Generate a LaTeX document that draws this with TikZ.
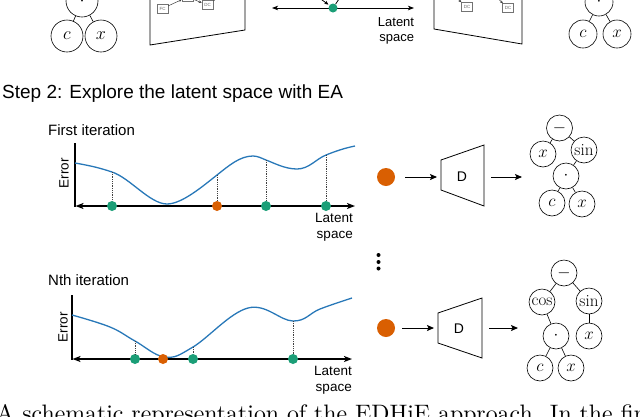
\RequirePackage{fix-cm}
\documentclass[tikz,border=0pt]{standalone}
\usepackage{fontspec}
\setsansfont{Liberation Sans}
\usetikzlibrary{arrows.meta}
\definecolor{dgreen}{HTML}{1B9E77}
\definecolor{dorange}{HTML}{D95F02}
\definecolor{cblue}{HTML}{2878B8}
\begin{document}
\begin{tikzpicture}[x=1pt,y=-1pt,
  tnode/.style={circle,draw,line width=0.6pt,inner sep=0pt,minimum size=26pt,font=\fontsize{17}{17}\selectfont},
  bigt/.style={tnode,minimum size=32pt,font=\fontsize{18}{18}\selectfont},
  midt/.style={tnode,minimum size=28pt,font=\fontsize{17}{17}\selectfont},
  axis/.style={line width=1.6pt,{Stealth[length=8pt,width=6pt,inset=2pt]}-{Stealth[length=8pt,width=6pt,inset=2pt]}},
  smallaxis/.style={line width=0.9pt,{Stealth[length=6pt,width=4.5pt,inset=1.5pt]}-{Stealth[length=6pt,width=4.5pt,inset=1.5pt]}},
  yaxis/.style={line width=1.6pt},
  curve/.style={cblue,line width=1.3pt},
  drop/.style={densely dotted,line width=0.8pt,black!75},
  gdot/.style={circle,fill=dgreen,inner sep=0pt,minimum size=10pt},
  odot/.style={circle,fill=dorange,inner sep=0pt,minimum size=10pt},
  bigodot/.style={circle,fill=dorange,inner sep=0pt,minimum size=18pt},
  flow/.style={line width=0.9pt,-{Stealth[length=7pt,width=6pt,inset=1.5pt]}},
  trap/.style={line width=0.8pt},
  lab/.style={font=\sffamily\fontsize{13.5}{16}\selectfont,align=right},
  errlab/.style={font=\sffamily\fontsize{13.5}{16}\selectfont,rotate=90},
  title/.style={font=\sffamily\fontsize{15}{18}\selectfont,anchor=base west,inner sep=0pt},
  minibox/.style={draw=black!55,line width=0.4pt,minimum width=11pt,minimum height=9pt,inner sep=0pt,font=\sffamily\fontsize{4.5}{5}\selectfont,text=black!60},
  tinyarrow/.style={line width=0.5pt,black!75,-{Stealth[length=3pt,width=2.5pt]}},
  vdot/.style={circle,fill=black,inner sep=0pt,minimum size=4pt}
]
\useasboundingbox (0,0) rectangle (640,416);
\clip (0,0) rectangle (640,416);

% ---------------- top row (partially cut) ----------------
\node[bigt] (tl0) at (82,1) {$\cdot$};
\node[bigt] (tl1) at (67,36) {$c$};
\node[bigt] (tl2) at (101,36) {$x$};
\draw[line width=0.6pt] (tl0) -- (tl1);
\draw[line width=0.6pt] (tl0) -- (tl2);

% encoder
\coordinate (enc1) at (150,-20);
\coordinate (enc2) at (150,45);
\coordinate (enc3) at (245,30);
\coordinate (enc4) at (245,-20);
\draw[trap] (enc1) -- (enc2) -- (enc3) -- (enc4);
\node[minibox] (e1) at (162.5,8.5) {FC};
\node[minibox] (e2) at (187.5,-3) {};
\node[minibox] (e3) at (207.5,5) {DC};
\draw[tinyarrow] (e1) -- (e2);
\draw[tinyarrow] (e2) -- (e3);
\coordinate (e3out) at (219,-3);
\draw[line width=0.5pt,black!75] (e3) -- (e3out);

% latent axis
\coordinate (la0) at (272,8);
\coordinate (la1) at (414,8);
\draw[smallaxis] (la0) -- (la1);
\node[gdot,minimum size=9pt] (gd0) at (333,8) {};
\coordinate (st0) at (314,-6);
\draw[line width=0.8pt,-{Stealth[length=4pt,width=3.5pt]},shorten >=1pt] (st0) -- (gd0);
\coordinate (st1) at (341,-4);
\draw[line width=0.8pt] (gd0) -- (st1);
\node[lab,font=\sffamily\fontsize{13}{15}\selectfont] (lt0) at (396,31) {Latent\\space};

% decoder
\coordinate (dec1) at (434,-20);
\coordinate (dec2) at (434,29);
\coordinate (dec3) at (522,44);
\coordinate (dec4) at (522,-20);
\draw[trap] (dec1) -- (dec2) -- (dec3) -- (dec4);
\node[minibox] (db1) at (467,7) {DC};
\node[minibox] (db2) at (508,8) {DC};
\coordinate (db1in) at (453,-5);
\coordinate (db2in) at (494,-5);
\draw[tinyarrow] (db1in) -- (db1);
\draw[tinyarrow] (db2in) -- (db2);

\node[midt] (tr0) at (599,2) {$\cdot$};
\node[midt] (tr1) at (583,34) {$c$};
\node[midt] (tr2) at (617,34) {$x$};
\draw[line width=0.6pt] (tr0) -- (tr1);
\draw[line width=0.6pt] (tr0) -- (tr2);

% ---------------- Step 2 ----------------
\node[title,font=\sffamily\fontsize{19}{22}\selectfont] (step2) at (2,98) {Step 2: Explore the latent space with EA};

% ---------------- first iteration plot ----------------
\node[title] (fi) at (48,135) {First iteration};
\coordinate (uy0) at (75,143);
\coordinate (uy1) at (75,206.8);
\draw[yaxis] (uy0) -- (uy1);
\coordinate (ux0) at (75.5,206);
\coordinate (ux1) at (355,206);
\draw[axis] (ux0) -- (ux1);
\node[errlab] (ue) at (64,173) {Error};
\node[lab] (ul) at (334,227) {Latent\\space};

\coordinate (u1) at (75,163);
\coordinate (u2) at (112,172);
\coordinate (u3) at (167,204);
\coordinate (u4) at (217,175);
\coordinate (u5) at (253,156);
\coordinate (u6) at (266,160);
\coordinate (u7) at (297,169);
\coordinate (u8) at (326,155);
\coordinate (u9) at (355,146);
\draw[curve] (u1) .. controls (92,166) and (100,168) .. (u2)
  .. controls (130,178) and (150,204) .. (u3)
  .. controls (182,204) and (203,186) .. (u4)
  .. controls (229,165.5) and (240,156) .. (u5)
  .. controls (258,156) and (262,158.5) .. (u6)
  .. controls (274,163) and (285,169) .. (u7)
  .. controls (309,169) and (316,159) .. (u8)
  .. controls (336,151) and (345,148) .. (u9);

\node[gdot] (ud1) at (112,206) {};
\node[odot] (ud2) at (217,206) {};
\node[gdot] (ud3) at (266,206) {};
\node[gdot] (ud4) at (326,206) {};
\draw[drop] (u2) -- (ud1);
\draw[drop] (u4) -- (ud2);
\draw[drop] (u6) -- (ud3);
\draw[drop] (u8) -- (ud4);

% decoding, first iteration
\node[bigodot] (od1) at (386,177) {};
\coordinate (t1a) at (441,160);
\coordinate (t1b) at (484,145);
\coordinate (t1c) at (484,206);
\coordinate (t1d) at (441,190);
\draw[trap] (t1a) -- (t1b) -- (t1c) -- (t1d) -- cycle;
\node[font=\sffamily\fontsize{14}{16}\selectfont] (D1) at (462,177) {D};
\coordinate (t1l) at (441,177);
\coordinate (t1r) at (484,177);
\coordinate (a1e) at (522,177);
\draw[flow,shorten <=10pt,shorten >=4pt] (od1) -- (t1l);
\draw[flow,shorten <=7pt] (t1r) -- (a1e);

\node[tnode] (m1) at (559.5,128) {$-$};
\node[tnode] (x1) at (543,154) {$x$};
\node[tnode] (s1) at (584,150) {$\sin$};
\node[tnode] (p1) at (566,176) {$\cdot$};
\node[tnode] (c1) at (552,203) {$c$};
\node[tnode] (x2) at (582,204) {$x$};
\draw[line width=0.6pt] (m1) -- (x1);
\draw[line width=0.6pt] (m1) -- (s1);
\draw[line width=0.6pt] (s1) -- (p1);
\draw[line width=0.6pt] (p1) -- (c1);
\draw[line width=0.6pt] (p1) -- (x2);

% vertical dots
\node[vdot] (v1) at (378.5,255) {};
\node[vdot] (v2) at (378.5,262) {};
\node[vdot] (v3) at (378.5,268.5) {};

% ---------------- Nth iteration plot ----------------
\node[title] (ni) at (48,285.5) {Nth iteration};
\coordinate (ly0) at (72,295);
\coordinate (ly1) at (72,359.8);
\draw[yaxis] (ly0) -- (ly1);
\coordinate (lx0) at (72.5,359);
\coordinate (lx1) at (352,359);
\draw[axis] (lx0) -- (lx1);
\node[errlab] (le) at (63,327) {Error};
\node[lab] (ll) at (333,380) {Latent\\space};

\coordinate (l1) at (72,315);
\coordinate (l2) at (110,327);
\coordinate (l3) at (135,341);
\coordinate (l4) at (165,357);
\coordinate (l5) at (193,347);
\coordinate (l6) at (248,308);
\coordinate (l7) at (293,321);
\coordinate (l8) at (320,309);
\coordinate (l9) at (352,298);
\draw[curve] plot[smooth,tension=0.65] coordinates {(l1) (l2) (l3) (l4) (l5) (l6) (l7) (l8) (l9)};

\node[gdot] (ld1) at (135,359) {};
\node[odot] (ld2) at (163,359) {};
\node[gdot] (ld3) at (193,359) {};
\node[gdot] (ld4) at (293,359) {};
\draw[drop] (l3) -- (ld1);
\draw[drop] (l5) -- (ld3);
\draw[drop] (l7) -- (ld4);

% decoding, Nth iteration
\node[bigodot] (od2) at (386,328) {};
\coordinate (t2a) at (438,313);
\coordinate (t2b) at (482,298);
\coordinate (t2c) at (482,358);
\coordinate (t2d) at (438,343);
\draw[trap] (t2a) -- (t2b) -- (t2c) -- (t2d) -- cycle;
\node[font=\sffamily\fontsize{14}{16}\selectfont] (D2) at (459,329) {D};
\coordinate (t2l) at (438,328);
\coordinate (t2r) at (482,328);
\coordinate (a2e) at (518,328);
\draw[flow,shorten <=7pt,shorten >=4pt] (od2) -- (t2l);
\draw[flow,shorten <=7pt] (t2r) -- (a2e);

\node[tnode] (m2) at (564,273) {$-$};
\node[tnode] (k2) at (542,302) {$\cos$};
\node[tnode] (s2) at (589,301) {$\sin$};
\node[tnode] (p2) at (556,336) {$\cdot$};
\node[tnode] (x3) at (589,336) {$x$};
\node[tnode] (c2) at (540,368) {$c$};
\node[tnode] (x4) at (571,368) {$x$};
\draw[line width=0.6pt] (m2) -- (k2);
\draw[line width=0.6pt] (m2) -- (s2);
\draw[line width=0.6pt] (k2) -- (p2);
\draw[line width=0.6pt] (s2) -- (x3);
\draw[line width=0.6pt] (p2) -- (c2);
\draw[line width=0.6pt] (p2) -- (x4);

% ---------------- caption (cut off) ----------------
\node[anchor=base west,inner sep=0pt,scale=2.38,font=\fontsize{10}{12}\selectfont] (cap) at (-4,421) {A schematic representation of the EDHiE approach. In the fir};
\end{tikzpicture}
\end{document}
